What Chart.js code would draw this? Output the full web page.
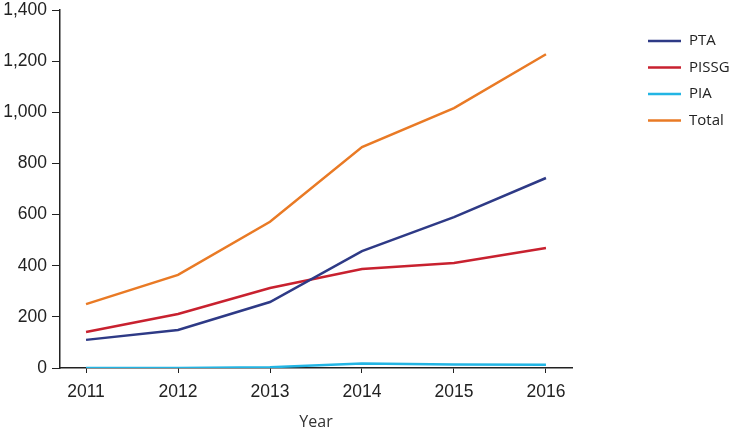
<!DOCTYPE html>
<html>
<head>
<meta charset="utf-8">
<script src="https://cdn.jsdelivr.net/npm/chart.js@4"></script>
<style>
  html, body { margin: 0; padding: 0; background: #fff; }
  #wrap { width: 732px; height: 432px; }
</style>
</head>
<body>
<div id="wrap"><canvas id="chart" width="732" height="432"></canvas></div>
<script>
// ── DATA ──────────────────────────────────────────────
const YEARS  = [2011, 2012, 2013, 2014, 2015, 2016];
const PTA    = [110, 149, 258, 457, 590, 743];
const PISSG  = [141, 211, 313, 387, 411, 469];
const PIA    = [0, 0, 3, 18, 14, 13];
const TOTAL  = [250, 364, 572, 864, 1016, 1227];
const Y_TICKS = [0, 200, 400, 600, 800, 1000, 1200, 1400];

const SERIES = [
  { label: 'PTA',   color: '#2e3a86', data: PTA },
  { label: 'PISSG', color: '#c8212f', data: PISSG },
  { label: 'PIA',   color: '#22b5e4', data: PIA },
  { label: 'Total', color: '#e97a25', data: TOTAL },
];

const AXIS = '#222222';
const TICK_FONT = { family: "'Liberation Sans', Arial, sans-serif", size: 17.5 };
const SIDE_FONT = "15px 'Open Sans', 'Noto Sans', sans-serif";

// ── Legend drawn on the right, line swatches ──
const sideLegend = {
  id: 'sideLegend',
  afterDraw(chart) {
    const ctx = chart.ctx;
    ctx.save();
    ctx.font = SIDE_FONT;
    ctx.textBaseline = 'middle';
    ctx.textAlign = 'left';
    chart.data.datasets.forEach((ds, i) => {
      const y = 41 + i * 26.5;
      ctx.strokeStyle = ds.borderColor;
      ctx.lineWidth = 2.5;
      ctx.beginPath();
      ctx.moveTo(648, y);
      ctx.lineTo(681, y);
      ctx.stroke();
      ctx.fillStyle = '#222';
      ctx.fillText(ds.label, 689, y);
    });
    ctx.restore();
  }
};

new Chart(document.getElementById('chart'), {
  type: 'line',
  data: {
    datasets: SERIES.map(s => ({
      label: s.label,
      data: YEARS.map((yr, i) => ({ x: yr, y: s.data[i] })),
      borderColor: s.color,
      backgroundColor: s.color,
      borderWidth: 2.5,
      pointRadius: 0,
      tension: 0,
    }))
  },
  options: {
    responsive: false,
    animation: false,
    layout: { padding: { top: 10, right: 160, left: 0, bottom: 0 } },
    plugins: { legend: { display: false }, tooltip: { enabled: false } },
    scales: {
      x: {
        type: 'linear',
        min: 2010.717,
        max: 2016.283,
        afterBuildTicks: s => { s.ticks = YEARS.map(v => ({ value: v })); },
        afterFit: s => { s.height = 64; s.paddingLeft = 0; s.paddingRight = 0; },
        grid: { display: true, drawOnChartArea: false, tickLength: 5, color: AXIS, lineWidth: 1 },
        border: { color: AXIS, width: 1.5 },
        ticks: { font: TICK_FONT, color: AXIS, padding: 9, maxRotation: 0, callback: v => String(v) },
        title: {
          display: true, text: 'Year', color: '#333',
          font: { family: "'Open Sans', 'Noto Sans', sans-serif", size: 16 },
          padding: { top: 8, bottom: 0 }
        }
      },
      y: {
        min: 0,
        max: 1400,
        afterBuildTicks: s => { s.ticks = Y_TICKS.map(v => ({ value: v })); },
        afterFit: s => { s.width = 60; s.paddingTop = 0; s.paddingBottom = 0; },
        grid: { display: true, drawOnChartArea: false, tickLength: 8, color: AXIS, lineWidth: 1 },
        border: { color: AXIS, width: 1.5 },
        ticks: { font: TICK_FONT, color: AXIS, padding: 5, callback: v => v.toLocaleString('en-US') }
      }
    }
  },
  plugins: [sideLegend]
});
</script>
</body>
</html>
